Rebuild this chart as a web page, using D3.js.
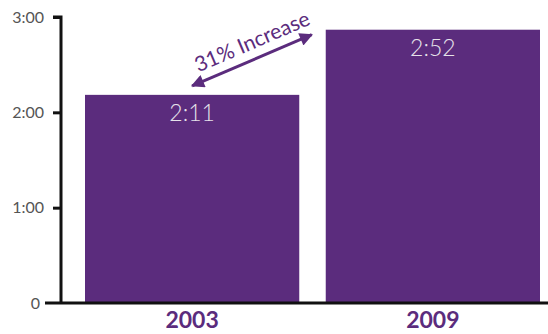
<!DOCTYPE html>
<html>
<head>
<meta charset="utf-8">
<script src="https://cdn.jsdelivr.net/npm/d3@7"></script>
<style>
  html, body { margin: 0; padding: 0; background: #fff; }
  svg { display: block; }
</style>
</head>
<body>
<svg id="chart" width="548" height="334"></svg>
<script>
// Daily time, in minutes
const years = ["2003", "2009"];
const minutes = [131, 172];
const valueLabels = ["2:11", "2:52"];
const tickValues = [0, 60, 120, 180];
const tickLabels = ["0", "1:00", "2:00", "3:00"];
const increaseLabel = "31% Increase";

const purple = "#5b2c7d";
const svg = d3.select("#chart");

const x = d3.scaleBand().domain(years).range([85, 540]).paddingInner(0.11).paddingOuter(0);
const y = d3.scaleLinear().domain([0, 180]).range([303, 17]);

// Bars
svg.selectAll("rect.bar").data(years).join("rect")
  .attr("class", "bar")
  .attr("x", d => x(d))
  .attr("width", x.bandwidth())
  .attr("y", (d, i) => y(minutes[i]))
  .attr("height", (d, i) => y(0) - y(minutes[i]))
  .attr("fill", purple);

// Value labels inside bars
svg.selectAll("text.val").data(years).join("text")
  .attr("class", "val")
  .attr("x", d => x(d) + x.bandwidth() / 2)
  .attr("y", (d, i) => y(minutes[i]) + 26)
  .attr("text-anchor", "middle")
  .attr("fill", "#e6e2ea")
  .style("font-family", "Lato, 'Open Sans', sans-serif")
  .style("font-weight", "300")
  .style("font-size", "23px")
  .text((d, i) => valueLabels[i]);

// Y axis
const yAxis = d3.axisLeft(y)
  .tickValues(tickValues)
  .tickFormat((d, i) => tickLabels[i])
  .tickSize(8)
  .tickPadding(9);
const ya = svg.append("g").attr("transform", "translate(61,0)").call(yAxis);
ya.select(".domain").attr("stroke", "#111").attr("stroke-width", 3).attr("d", "M-8,17H0V303");
ya.selectAll(".tick line").attr("stroke", "#111").attr("stroke-width", 3);
ya.selectAll(".tick text")
  .attr("fill", "#555")
  .style("font-family", "Lato, 'Open Sans', sans-serif")
  .style("font-size", "16px");
ya.selectAll(".tick").filter(d => d === 0).select("line").remove();
ya.selectAll(".tick").filter(d => d === 0).select("text").attr("x", -21);

// X axis baseline and year labels
const xAxis = d3.axisBottom(x).tickSize(0);
const xa = svg.append("g").attr("transform", `translate(0,${y(0)})`).call(xAxis);
xa.select(".domain").attr("stroke", "#111").attr("stroke-width", 3).attr("d", "M45,0H548");
xa.selectAll(".tick text")
  .attr("y", 9)
  .attr("fill", purple)
  .style("font-family", "Lato, 'Open Sans', sans-serif")
  .style("font-weight", "bold")
  .style("font-size", "23px");

// Double-headed arrow between bar tops
const defs = svg.append("defs");
defs.append("marker")
  .attr("id", "head")
  .attr("viewBox", "0 0 10 10")
  .attr("refX", 9).attr("refY", 5)
  .attr("markerWidth", 5).attr("markerHeight", 4.4)
  .attr("orient", "auto-start-reverse")
  .append("path").attr("d", "M0,0L10,5L0,10Z").attr("fill", purple);

const p0 = [x(years[0]) + x.bandwidth() / 2, y(minutes[0]) - 9];
const p1 = [x(years[1]) - 14, y(minutes[1]) + 5];
svg.append("line")
  .attr("x1", p0[0]).attr("y1", p0[1])
  .attr("x2", p1[0]).attr("y2", p1[1])
  .attr("stroke", purple).attr("stroke-width", 3)
  .attr("marker-start", "url(#head)")
  .attr("marker-end", "url(#head)");

const ang = Math.atan2(p1[1] - p0[1], p1[0] - p0[0]) * 180 / Math.PI;
svg.append("text")
  .attr("transform", `translate(${(p0[0] + p1[0]) / 2 + 3},${(p0[1] + p1[1]) / 2 - 12}) rotate(${ang})`)
  .attr("text-anchor", "middle")
  .attr("fill", purple)
  .style("font-family", "Lato, 'Open Sans', sans-serif")
  .style("font-size", "21px")
  .text(increaseLabel);
</script>
</body>
</html>
